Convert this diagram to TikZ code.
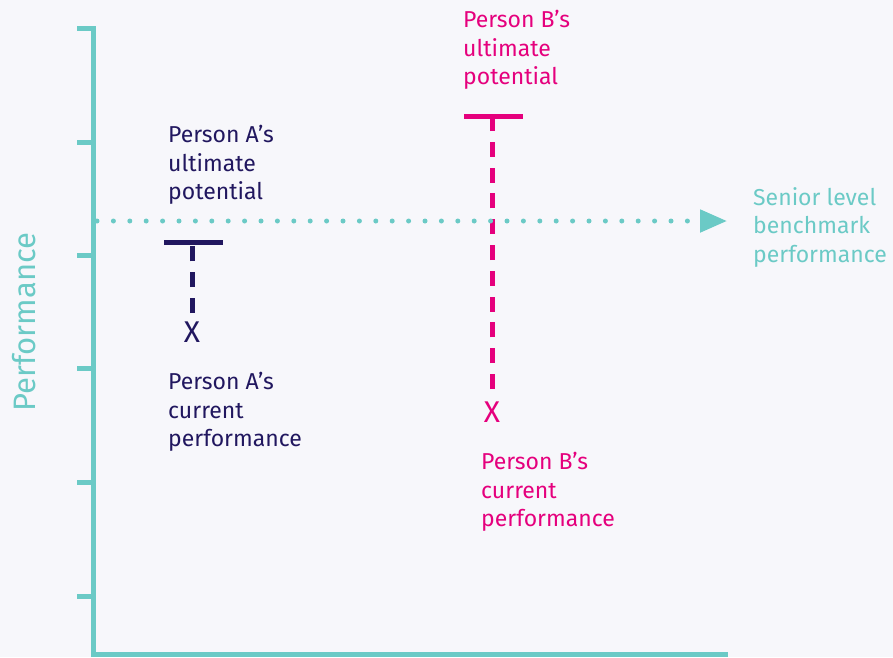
\documentclass[tikz,border=0pt]{standalone}
\usepackage{fontspec}
\setmainfont{Fira Sans}
\usetikzlibrary{arrows.meta}
\definecolor{bgpaper}{HTML}{F7F7FB}
\definecolor{axisteal}{HTML}{6BCAC6}
\definecolor{navyA}{HTML}{21175F}
\definecolor{pinkB}{HTML}{E5007D}
\tikzset{
  axisline/.style={axisteal,line width=5pt},
  lbl/.style={anchor=west,align=left,inner sep=0pt,font=\fontsize{23}{28.5}\selectfont},
  xmark/.style={inner sep=0pt,font=\fontsize{30}{30}\selectfont},
  potbar/.style={line width=5pt},
  stem/.style={line width=5pt,dash pattern=on 15pt off 10.8pt}
}
\begin{document}
\begin{tikzpicture}[x=1pt,y=-1pt]
\useasboundingbox (0,0) rectangle (893,657);
\fill[bgpaper] (0,0) rectangle (893,657);
% axes
\draw[axisline,line join=miter] (77,28) -- (93,28) -- (93,654.5) -- (728,654.5);
\foreach \ty in {142,255,368,482,596}
  \draw[axisline] (77,\ty) -- (93,\ty);
\node[rotate=90,text=axisteal,inner sep=0pt,font=\fontsize{31}{31}\selectfont] (ylab) at (24,322) {Performance};
% person A
\coordinate (atopl) at (164,242.5);
\coordinate (atopr) at (223,242.5);
\coordinate (atop) at (192,242.5);
\coordinate (abot) at (192,313);
\draw[navyA,potbar] (atopl) -- (atopr);
\node[xmark,text=navyA] (ax) at (192,332) {X};
\draw[navyA,stem] (abot) -- (atop);
\node[lbl,text=navyA] (aup) at (168,165) {Person A’s\\ultimate\\potential};
\node[lbl,text=navyA] (acur) at (168,412) {Person A’s\\current\\performance};
% person B
\coordinate (btopl) at (464,116.5);
\coordinate (btopr) at (523,116.5);
\coordinate (btop) at (492,116.5);
\coordinate (bbot) at (492,389);
\draw[pinkB,potbar] (btopl) -- (btopr);
\node[xmark,text=pinkB] (bx) at (492,412) {X};
\draw[pinkB,stem] (bbot) -- (btop);
\node[lbl,text=pinkB] (bup) at (463,50) {Person B’s\\ultimate\\potential};
\node[lbl,text=pinkB] (bcur) at (481,492) {Person B’s\\current\\performance};
% benchmark
\coordinate (bstart) at (97,221);
\coordinate (bend) at (727,221);
\draw[axisteal,line width=5pt,line cap=round,dash pattern=on 0pt off 16.4pt,
  -{Triangle[length=27pt,width=22pt,line cap=butt]}] (bstart) -- (bend);
\node[lbl,text=axisteal] (bench) at (753,227) {Senior level\\benchmark\\performance};
\end{tikzpicture}
\end{document}
